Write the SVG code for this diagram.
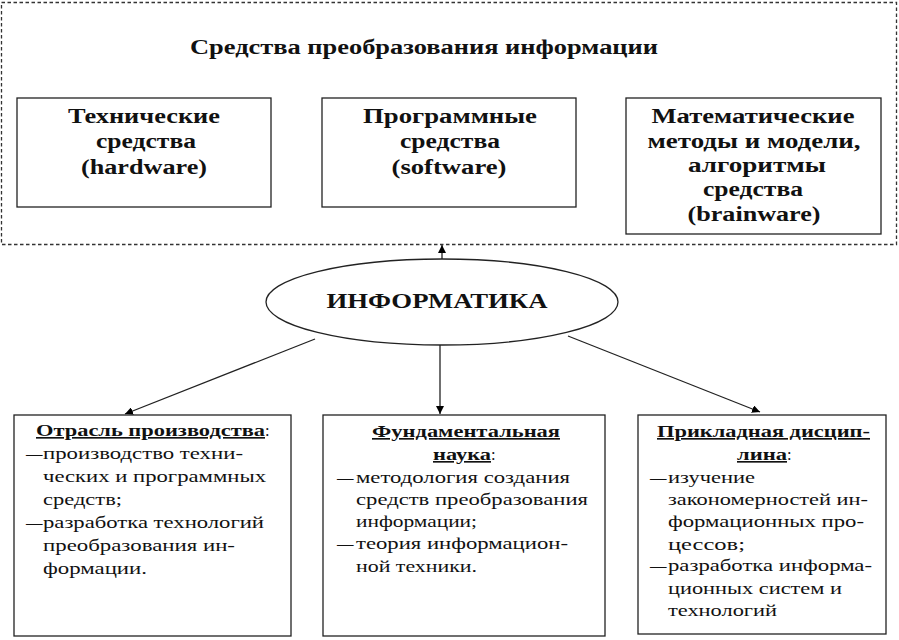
<svg xmlns="http://www.w3.org/2000/svg" width="899" height="640" viewBox="0 0 899 640">
<defs>
<marker id="ah" viewBox="0 0 10 10" refX="10" refY="5" markerWidth="8" markerHeight="8" orient="auto" markerUnits="userSpaceOnUse">
<path d="M0,0 L10,5 L0,10 z" fill="#000"/>
</marker>
<style>
.box{fill:#fff;stroke:#222;stroke-width:1.3}
.hd{font-family:"Liberation Serif","Times New Roman",serif;font-weight:bold;font-size:20px;fill:#111;text-anchor:middle}
.bt{font-family:"Liberation Serif","Times New Roman",serif;font-size:16.5px;fill:#111}
.bh{font-family:"Liberation Serif","Times New Roman",serif;font-size:16.5px;font-weight:bold;fill:#111;text-decoration:underline}
.ln{stroke:#222;stroke-width:1.3;fill:none}
</style>
</defs>
<rect width="899" height="640" fill="#fff"/>
<g id="frame">
<rect x="1.5" y="2.5" width="895" height="242" fill="none" stroke="#333" stroke-width="1.3" stroke-dasharray="3.5,2.5"/>
<text class="hd" x="424" y="54" textLength="468" lengthAdjust="spacingAndGlyphs">Средства преобразования информации</text>
</g>
<g id="hardware">
<rect class="box" x="17" y="98" width="254" height="109"/>
<text class="hd" x="144" y="123" textLength="152" lengthAdjust="spacingAndGlyphs">Технические</text>
<text class="hd" x="146" y="148" textLength="100" lengthAdjust="spacingAndGlyphs">средства</text>
<text class="hd" x="144" y="174" textLength="126" lengthAdjust="spacingAndGlyphs">(hardware)</text>
</g>
<g id="software">
<rect class="box" x="322" y="98" width="254" height="109"/>
<text class="hd" x="450" y="123" textLength="174" lengthAdjust="spacingAndGlyphs">Программные</text>
<text class="hd" x="450" y="148" textLength="100" lengthAdjust="spacingAndGlyphs">средства</text>
<text class="hd" x="449" y="174" textLength="115" lengthAdjust="spacingAndGlyphs">(software)</text>
</g>
<g id="brainware">
<rect class="box" x="626" y="98" width="255" height="136"/>
<text class="hd" x="753" y="123" textLength="203" lengthAdjust="spacingAndGlyphs">Математические</text>
<text class="hd" x="754" y="148" textLength="213" lengthAdjust="spacingAndGlyphs">методы и модели,</text>
<text class="hd" x="757" y="172" textLength="138" lengthAdjust="spacingAndGlyphs">алгоритмы</text>
<text class="hd" x="753" y="196" textLength="100" lengthAdjust="spacingAndGlyphs">средства</text>
<text class="hd" x="754" y="221" textLength="133" lengthAdjust="spacingAndGlyphs">(brainware)</text>
</g>
<g id="informatika">
<ellipse cx="442" cy="302" rx="176" ry="43" fill="#fff" stroke="#222" stroke-width="1.3"/>
<text class="hd" x="437" y="308" textLength="221" lengthAdjust="spacingAndGlyphs" style="font-size:21px">ИНФОРМАТИКА</text>
</g>
<g id="connectors">
<line class="ln" x1="442" y1="259" x2="442" y2="245" marker-end="url(#ah)"/>
<line class="ln" x1="315" y1="339" x2="125" y2="414" marker-end="url(#ah)"/>
<line class="ln" x1="440" y1="345" x2="440" y2="414" marker-end="url(#ah)"/>
<line class="ln" x1="568" y1="336" x2="760" y2="412" marker-end="url(#ah)"/>
</g>
<g id="industry">
<rect class="box" x="14" y="415" width="277" height="221"/>
<text x="36" y="436"><tspan class="bh" textLength="229" lengthAdjust="spacingAndGlyphs">Отрасль производства</tspan><tspan class="bt">:</tspan></text>
<text class="bt" x="26" y="459">—</text><text class="bt" x="43" y="459" textLength="200" lengthAdjust="spacingAndGlyphs">производство техни-</text>
<text class="bt" x="43" y="482" textLength="223" lengthAdjust="spacingAndGlyphs">ческих и программных</text>
<text class="bt" x="43" y="505" textLength="79" lengthAdjust="spacingAndGlyphs">средств;</text>
<text class="bt" x="26" y="528">—</text><text class="bt" x="43" y="528" textLength="221" lengthAdjust="spacingAndGlyphs">разработка технологий</text>
<text class="bt" x="43" y="551" textLength="192" lengthAdjust="spacingAndGlyphs">преобразования ин-</text>
<text class="bt" x="43" y="574" textLength="104" lengthAdjust="spacingAndGlyphs">формации.</text>
</g>
<g id="science">
<rect class="box" x="323" y="415" width="282" height="221"/>
<text class="bh" x="372" y="437" textLength="188" lengthAdjust="spacingAndGlyphs">Фундаментальная</text>
<text x="433" y="460"><tspan class="bh" textLength="58" lengthAdjust="spacingAndGlyphs">наука</tspan><tspan class="bt">:</tspan></text>
<text class="bt" x="337" y="483">—</text><text class="bt" x="356" y="483" textLength="214" lengthAdjust="spacingAndGlyphs">методология создания</text>
<text class="bt" x="356" y="505" textLength="232" lengthAdjust="spacingAndGlyphs">средств преобразования</text>
<text class="bt" x="356" y="527" textLength="121" lengthAdjust="spacingAndGlyphs">информации;</text>
<text class="bt" x="337" y="549">—</text><text class="bt" x="356" y="549" textLength="212" lengthAdjust="spacingAndGlyphs">теория информацион-</text>
<text class="bt" x="356" y="572" textLength="121" lengthAdjust="spacingAndGlyphs">ной техники.</text>
</g>
<g id="applied">
<rect class="box" x="638" y="415" width="248" height="219"/>
<text class="bh" x="657" y="437" textLength="213" lengthAdjust="spacingAndGlyphs">Прикладная дисцип-</text>
<text x="737" y="460"><tspan class="bh" textLength="50" lengthAdjust="spacingAndGlyphs">лина</tspan><tspan class="bt">:</tspan></text>
<text class="bt" x="650" y="483">—</text><text class="bt" x="668" y="483" textLength="87" lengthAdjust="spacingAndGlyphs">изучение</text>
<text class="bt" x="668" y="505" textLength="200" lengthAdjust="spacingAndGlyphs">закономерностей ин-</text>
<text class="bt" x="668" y="527" textLength="196" lengthAdjust="spacingAndGlyphs">формационных про-</text>
<text class="bt" x="668" y="550" textLength="77" lengthAdjust="spacingAndGlyphs">цессов;</text>
<text class="bt" x="650" y="571">—</text><text class="bt" x="668" y="571" textLength="204" lengthAdjust="spacingAndGlyphs">разработка информа-</text>
<text class="bt" x="668" y="594" textLength="174" lengthAdjust="spacingAndGlyphs">ционных систем и</text>
<text class="bt" x="668" y="616" textLength="109" lengthAdjust="spacingAndGlyphs">технологий</text>
</g>
</svg>
